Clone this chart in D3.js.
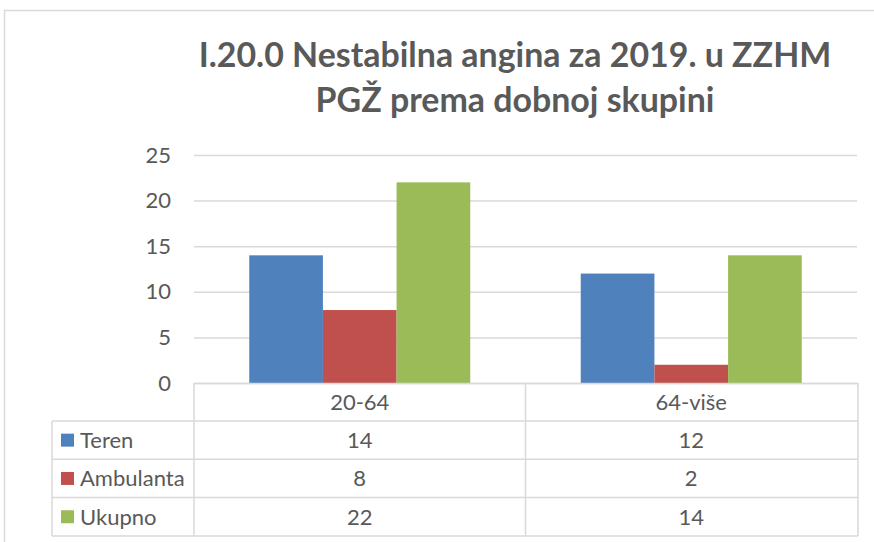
<!DOCTYPE html>
<html>
<head>
<meta charset="utf-8">
<script src="https://cdn.jsdelivr.net/npm/d3@7"></script>
<style>
  body { margin: 0; background: #fff; }
  text { font-family: Lato, "Noto Sans", sans-serif; fill: #595959; }
</style>
</head>
<body>
<script>
// data
var categories = ["20-64", "64-više"];
var series = ["Teren", "Ambulanta", "Ukupno"];
var teren = [14, 12];
var ambulanta = [8, 2];
var ukupno = [22, 14];
var yTicks = [0, 5, 10, 15, 20, 25];
var colors = ["#4f81bd", "#c0504d", "#9bbb59"];
var titleLines = ["I.20.0 Nestabilna angina za 2019. u ZZHM", "PGŽ prema dobnoj skupini"];

var values = [teren, ambulanta, ukupno];

var width = 874, height = 542;
var plotLeft = 194, plotRight = 857, plotTop = 155, plotBottom = 383;
var rowH = 38.3, headerH = 38;
var gridColor = "#d9d9d9";
var fs = "22px";

var svg = d3.select("body").append("svg")
    .attr("width", width)
    .attr("height", height);

// chart frame
svg.append("path")
    .attr("d", "M4.5," + height + "V10.5H" + width)
    .attr("fill", "none")
    .attr("stroke", gridColor)
    .attr("stroke-width", 1.5);

// title, fitted to the measured width
var title = svg.append("g");
title.selectAll("text")
    .data(titleLines)
  .enter().append("text")
    .attr("x", 515)
    .attr("y", function(d, i) { return 67 + i * 45; })
    .attr("text-anchor", "middle")
    .style("font-weight", "bold")
    .style("font-size", "33px")
    .text(function(d) { return d; });
var w0 = title.select("text").node().getComputedTextLength();
title.selectAll("text").style("font-size", (33 * 633 / w0) + "px");

var y = d3.scaleLinear()
    .domain([0, 25])
    .range([plotBottom, plotTop]);

var x0 = d3.scaleBand()
    .domain(categories)
    .range([plotLeft, plotRight]);

var x1 = d3.scaleBand()
    .domain(series)
    .range([0, x0.bandwidth()])
    .paddingOuter(0.75);

// grid + y axis
var yAxis = svg.append("g")
    .attr("transform", "translate(" + plotLeft + ",0)")
    .call(d3.axisLeft(y).tickValues(yTicks).tickSize(-(plotRight - plotLeft)).tickPadding(23));
yAxis.select(".domain").remove();
yAxis.selectAll(".tick line")
    .attr("stroke", gridColor)
    .attr("stroke-width", 1.5);
yAxis.selectAll(".tick text")
    .style("font-size", fs)
    .style("font-family", "Lato, sans-serif")
    .attr("fill", "#595959");

// bars
var groups = svg.selectAll(".grp")
    .data(categories)
  .enter().append("g")
    .attr("class", "grp")
    .attr("transform", function(d) { return "translate(" + x0(d) + ",0)"; });

groups.selectAll("rect")
    .data(function(d, ci) { return series.map(function(s, si) { return {s: s, v: values[si][ci], c: colors[si]}; }); })
  .enter().append("rect")
    .attr("x", function(d) { return x1(d.s); })
    .attr("width", x1.bandwidth())
    .attr("y", function(d) { return y(d.v); })
    .attr("height", function(d) { return plotBottom - y(d.v); })
    .attr("fill", function(d) { return d.c; });

// data table
var tLeft = 52;
var table = svg.append("g");
var tableBottom = plotBottom + headerH + rowH * series.length;
var line = function(ax, ay, bx, by) {
  table.append("line")
      .attr("x1", ax).attr("y1", ay)
      .attr("x2", bx).attr("y2", by)
      .attr("stroke", gridColor)
      .attr("stroke-width", 1.5);
};
line(plotLeft, plotBottom + 0.5, plotRight + 1, plotBottom + 0.5);
for (var r = 0; r <= series.length; r++) {
  line(tLeft, plotBottom + headerH + r * rowH, plotRight + 1, plotBottom + headerH + r * rowH);
}
line(tLeft, plotBottom + headerH, tLeft, tableBottom);
categories.forEach(function(c) { line(x0(c), plotBottom, x0(c), tableBottom); });
line(plotRight + 1, plotBottom, plotRight + 1, tableBottom);

table.selectAll(".hdr")
    .data(categories)
  .enter().append("text")
    .attr("class", "hdr")
    .attr("x", function(d) { return x0(d) + x0.bandwidth() / 2; })
    .attr("y", plotBottom + headerH / 2 + 8)
    .attr("text-anchor", "middle")
    .style("font-size", fs)
    .text(function(d) { return d; });

var rows = table.selectAll(".row")
    .data(series)
  .enter().append("g")
    .attr("class", "row")
    .attr("transform", function(d, i) { return "translate(0," + (plotBottom + headerH + i * rowH) + ")"; });

rows.append("rect")
    .attr("x", 61)
    .attr("y", rowH / 2 - 6.5)
    .attr("width", 13)
    .attr("height", 13)
    .attr("fill", function(d, i) { return colors[i]; });

rows.append("text")
    .attr("x", 80)
    .attr("y", rowH / 2 + 8)
    .style("font-size", fs)
    .text(function(d) { return d; });

rows.selectAll(".val")
    .data(function(d, i) { return values[i]; })
  .enter().append("text")
    .attr("class", "val")
    .attr("x", function(d, ci) { return x0(categories[ci]) + x0.bandwidth() / 2; })
    .attr("y", rowH / 2 + 8)
    .attr("text-anchor", "middle")
    .style("font-size", fs)
    .text(function(d) { return d; });
</script>
</body>
</html>
